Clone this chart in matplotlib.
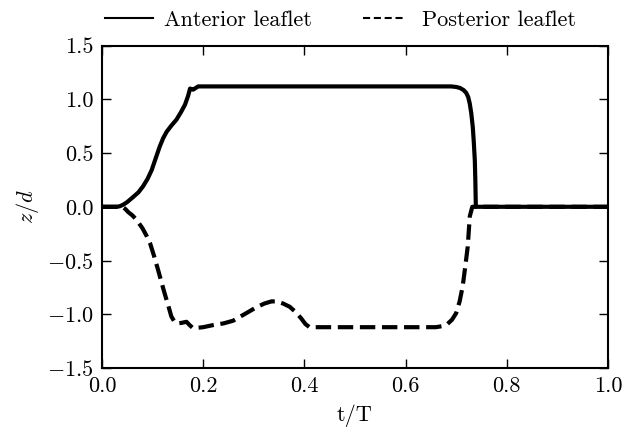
import matplotlib
matplotlib.use("Agg")
import matplotlib.pyplot as plt
import numpy as np

plt.rcParams['font.family'] = 'serif'
plt.rcParams['font.serif'] = ['cmr10']
plt.rcParams['mathtext.fontset'] = 'cm'
plt.rcParams['axes.formatter.use_mathtext'] = True
plt.rcParams['font.size'] = 16

# anterior leaflet (solid)
t_ant = [0.0, 0.029, 0.035, 0.042, 0.05, 0.062, 0.072, 0.081, 0.09, 0.098, 0.106,
         0.114, 0.121, 0.128, 0.137, 0.147, 0.156, 0.164, 0.170, 0.174, 0.177,
         0.180, 0.185, 0.19, 0.30, 0.50, 0.69, 0.70, 0.708, 0.715, 0.72, 0.724,
         0.727, 0.730, 0.733, 0.735, 0.737, 0.738, 0.739, 0.80, 1.0]
z_ant = [0.0, 0.0, 0.005, 0.02, 0.045, 0.093, 0.135, 0.19, 0.26, 0.34, 0.45,
         0.56, 0.64, 0.70, 0.755, 0.81, 0.88, 0.95, 1.03, 1.10, 1.095,
         1.09, 1.105, 1.12, 1.12, 1.12, 1.12, 1.115, 1.105, 1.085, 1.06, 1.02,
         0.96, 0.87, 0.74, 0.60, 0.43, 0.25, 0.0, 0.0, 0.0]

# posterior leaflet (dashed)
t_post = [0.0, 0.04, 0.046, 0.052, 0.060, 0.068, 0.08, 0.088, 0.095, 0.103, 0.111,
          0.118, 0.124, 0.131, 0.137, 0.142, 0.147, 0.157, 0.167, 0.173, 0.180,
          0.20, 0.220, 0.24, 0.259, 0.285, 0.305, 0.321, 0.335, 0.345, 0.358,
          0.371, 0.383, 0.394, 0.402, 0.41, 0.50, 0.66, 0.673, 0.683, 0.692,
          0.70, 0.707, 0.713, 0.718, 0.723, 0.727, 0.732, 0.80, 1.0]
z_post = [0.0, 0.0, -0.02, -0.05, -0.08, -0.12, -0.20, -0.27, -0.34, -0.46, -0.59,
          -0.71, -0.81, -0.92, -1.02, -1.06, -1.085, -1.08, -1.07, -1.10, -1.13,
          -1.12, -1.10, -1.085, -1.06, -0.99, -0.935, -0.90, -0.88, -0.88, -0.90,
          -0.93, -0.98, -1.04, -1.09, -1.12, -1.12, -1.12, -1.11, -1.09, -1.05,
          -0.99, -0.88, -0.74, -0.56, -0.37, -0.09, 0.0, 0.0, 0.0]

fig = plt.figure(figsize=(6.26, 4.34), dpi=100)
ax = fig.add_axes([0.163, 0.152, 0.808, 0.743])

ax.plot(t_ant, z_ant, color='black', lw=3, label='Anterior leaflet')
ax.plot(t_post, z_post, color='black', lw=3, ls='--', label='Posterior leaflet')

ax.set_xlim(0, 1)
ax.set_ylim(-1.5, 1.5)
ax.set_xticks([0.0, 0.2, 0.4, 0.6, 0.8, 1.0])
ax.set_yticks([-1.5, -1.0, -0.5, 0.0, 0.5, 1.0, 1.5])
ax.set_xticklabels(['0.0', '0.2', '0.4', '0.6', '0.8', '1.0'])
ax.set_yticklabels(['$-1.5$', '$-1.0$', '$-0.5$', '0.0', '0.5', '1.0', '1.5'])
ax.tick_params(direction='in', top=True, right=True, length=6.5, width=1, pad=6)
for s in ax.spines.values():
    s.set_linewidth(1.5)

ax.set_xlabel('t/T', labelpad=6)
ax.set_ylabel('$z/d$', labelpad=4)

leg = ax.legend(loc='center left', bbox_to_anchor=(105 / 626, 1 - 20 / 434),
                bbox_transform=fig.transFigure, ncol=2, frameon=False,
                handlelength=2.15, handletextpad=0.5, columnspacing=2.3,
                borderpad=0.0, borderaxespad=0.0)
for h in leg.get_lines():
    h.set_linewidth(1.5)
# dashed handle: four dashes
dh = leg.get_lines()[1]
dh.set_dashes([3.4, 1.8])
xd = np.asarray(dh.get_xdata(), dtype=float)
dh.set_xdata(np.linspace(xd[0], xd[0] + (xd[-1] - xd[0]) * 40 / 48, len(xd)))

fig.savefig('out.png', dpi=100)
